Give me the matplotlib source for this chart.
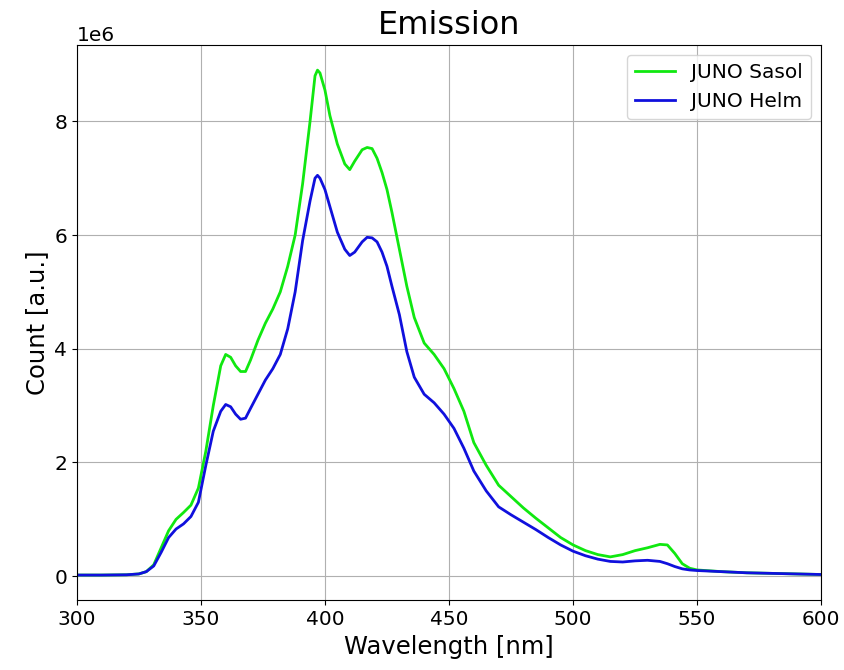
import matplotlib
matplotlib.use("Agg")
import matplotlib.pyplot as plt

# wavelength grid [nm] shared by both spectra
wavelength = [300, 310, 320, 325, 328, 331, 334, 337, 340, 343, 346, 349, 352, 355,
              358, 360, 362, 364, 366, 368, 370, 373, 376, 379, 382, 385, 388, 391,
              394, 396, 397, 398, 400, 402, 405, 408, 410, 412, 415, 417, 419, 421,
              423, 425, 427, 430, 433, 436, 440, 444, 448, 452, 456, 460, 465, 470,
              475, 480, 485, 490, 495, 500, 505, 510, 515, 520, 525, 530, 535, 538,
              541, 544, 547, 550, 560, 570, 580, 590, 600]

# counts in units of 1e6
sasol = [0.02, 0.02, 0.025, 0.04, 0.08, 0.2, 0.5, 0.8, 1.0, 1.12, 1.25, 1.55, 2.2, 3.0,
         3.7, 3.9, 3.85, 3.7, 3.6, 3.6, 3.8, 4.15, 4.45, 4.7, 5.0, 5.45, 6.0, 6.9,
         8.0, 8.8, 8.9, 8.85, 8.55, 8.1, 7.6, 7.25, 7.15, 7.3, 7.5, 7.54, 7.52, 7.35,
         7.1, 6.8, 6.4, 5.75, 5.1, 4.55, 4.1, 3.9, 3.65, 3.3, 2.9, 2.35, 1.95, 1.6,
         1.4, 1.2, 1.02, 0.85, 0.68, 0.55, 0.45, 0.38, 0.34, 0.38, 0.45, 0.5, 0.56, 0.55,
         0.4, 0.22, 0.14, 0.11, 0.08, 0.06, 0.05, 0.04, 0.03]

helm = [0.02, 0.02, 0.025, 0.04, 0.08, 0.18, 0.42, 0.68, 0.83, 0.92, 1.05, 1.3, 1.95, 2.55,
        2.9, 3.02, 2.98, 2.85, 2.76, 2.78, 2.95, 3.2, 3.45, 3.65, 3.9, 4.35, 5.0, 5.9,
        6.6, 7.0, 7.05, 7.0, 6.8, 6.5, 6.05, 5.75, 5.64, 5.7, 5.88, 5.96, 5.95, 5.88,
        5.7, 5.45, 5.1, 4.6, 3.95, 3.5, 3.2, 3.05, 2.85, 2.6, 2.25, 1.85, 1.5, 1.22,
        1.08, 0.95, 0.82, 0.68, 0.55, 0.44, 0.36, 0.3, 0.26, 0.25, 0.27, 0.28, 0.26, 0.22,
        0.17, 0.13, 0.11, 0.1, 0.08, 0.06, 0.05, 0.04, 0.03]

fig = plt.figure(figsize=(8.44, 6.7), dpi=100)
ax = fig.add_axes([0.091, 0.104, 0.882, 0.829])

ax.plot(wavelength, [v * 1e6 for v in sasol], color="#10e810", lw=2, label="JUNO Sasol")
ax.plot(wavelength, [v * 1e6 for v in helm], color="#1010dd", lw=2, label="JUNO Helm")

ax.set_xlim(300, 600)
ax.set_xlabel("Wavelength [nm]", fontsize=17.5)
ax.set_ylabel("Count [a.u.]", fontsize=17.5)
ax.set_title("Emission", fontsize=23, pad=8)
ax.tick_params(labelsize=14.5)
ax.yaxis.get_offset_text().set_fontsize(14.5)
ax.grid(True)
ax.legend(loc="upper right", fontsize=14.5)

fig.savefig("out.png", dpi=100, facecolor="white")
